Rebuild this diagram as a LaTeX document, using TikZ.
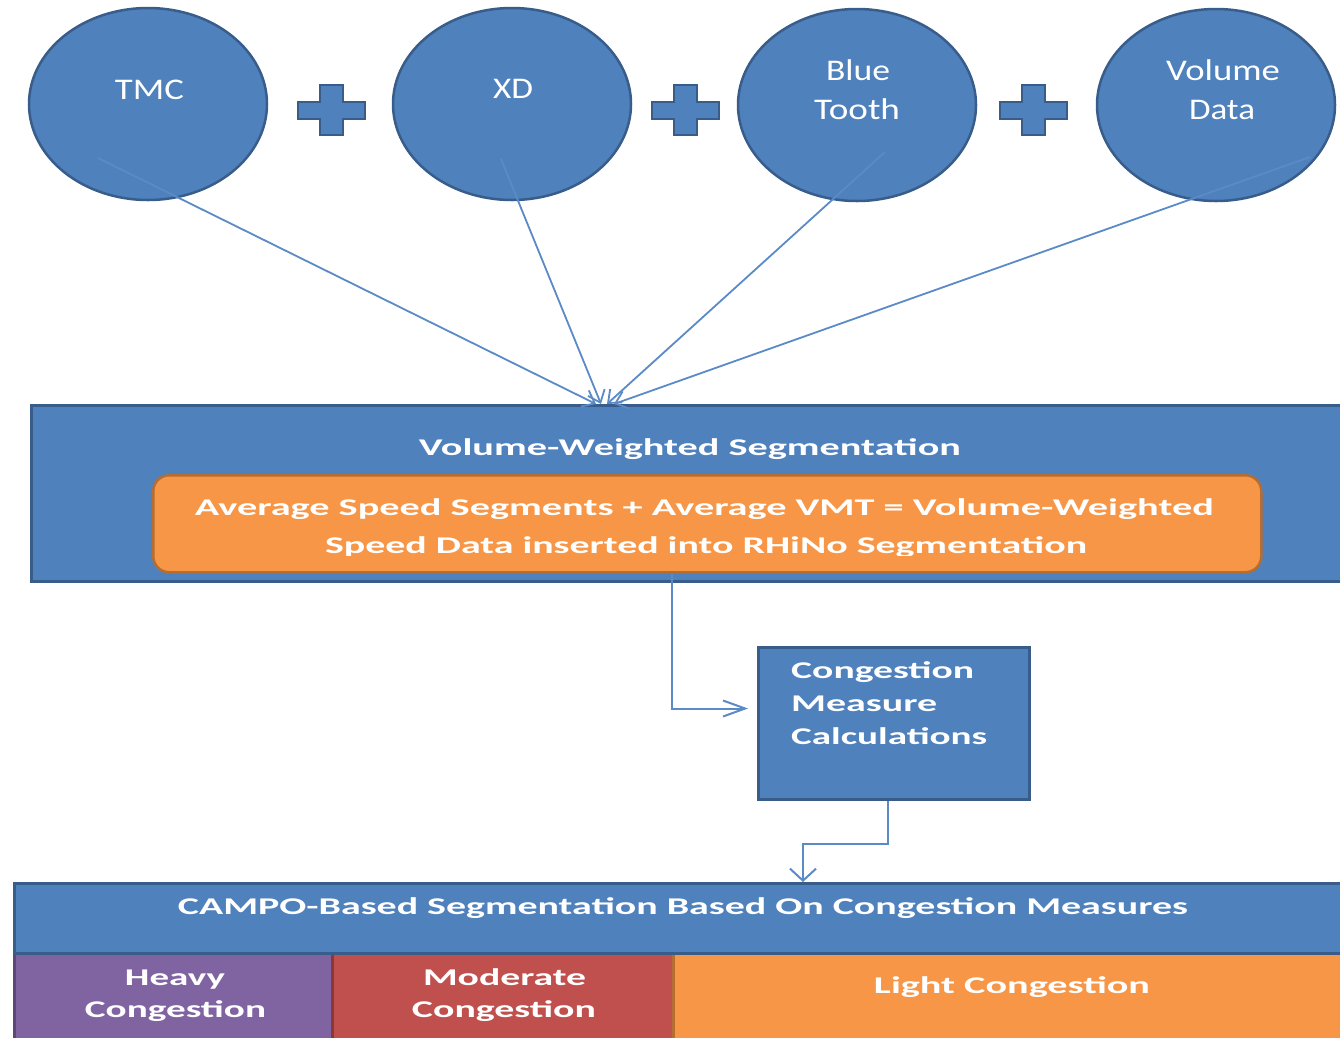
\documentclass[tikz,border=0pt]{standalone}
\usepackage{fontspec}
\setmainfont{Carlito}
\usetikzlibrary{arrows.meta,shapes.geometric,calc}
\definecolor{blu}{HTML}{4F81BD}
\definecolor{bluD}{HTML}{385D8A}
\definecolor{org}{HTML}{F79646}
\definecolor{orgD}{HTML}{B66D31}
\definecolor{pur}{HTML}{8064A2}
\definecolor{purD}{HTML}{5C4776}
\definecolor{redc}{HTML}{C0504D}
\definecolor{redD}{HTML}{8C3836}
\definecolor{lineC}{HTML}{5B8BC7}
\newcommand\fitw[2]{\resizebox{#1pt}{\height}{#2}}
\begin{document}
\begin{tikzpicture}[x=1pt,y=-1pt,
  circ/.style={ellipse, draw=bluD, fill=blu, line width=2.5pt, minimum width=238pt, minimum height=192pt, inner sep=0pt},
  plusst/.style={draw=bluD, fill=blu, line width=2pt},
  ctext/.style={text=white, inner sep=0pt, anchor=base, font=\fontsize{30}{36}\selectfont},
  btext/.style={text=white, inner sep=0pt, anchor=base, font=\bfseries\fontsize{24}{29}\selectfont},
  boxst/.style={draw=bluD, fill=blu, line width=2.5pt, anchor=north west, inner sep=0pt},
  cell/.style={line width=2.5pt, anchor=north west, inner sep=0pt, minimum height=100pt},
  conv/.style={draw=lineC, line width=1.8pt, -{Straight Barb[length=11pt,width=18pt]}},
  hconn/.style={draw=lineC, line width=2pt, -{Straight Barb[length=22pt,width=16pt]}},
  vconn/.style={draw=lineC, line width=2pt, -{Straight Barb[length=12pt,width=26pt]}}
]
\path[use as bounding box, clip] (0,0) rectangle (1340,1037);
\fill[white] (0,0) rectangle (1340,1037);

% source circles
\node[circ] (c1) at (148,104) {};
\node[circ] (c2) at (512,104) {};
\node[circ] (c3) at (857,105) {};
\node[circ] (c4) at (1216,105) {};
\node[ctext] (t1) at (149.5,99) {\fitw{69}{TMC}};
\node[ctext] (t2) at (513,98) {\fitw{40}{XD}};
\node[ctext] (t3a) at (858,80) {\fitw{64}{Blue}};
\node[ctext] (t3b) at (857,119) {\fitw{86}{Tooth}};
\node[ctext] (t4a) at (1223,80) {\fitw{114}{Volume}};
\node[ctext] (t4b) at (1222,119) {\fitw{66}{Data}};

% plus signs
\foreach \px in {331,685,1033}{
  \draw[plusst, shift={(\px,110)}] (-33.5,-8.5) -- (-11.5,-8.5) -- (-11.5,-25) -- (11.5,-25) -- (11.5,-8.5) -- (33.5,-8.5) -- (33.5,8.5) -- (11.5,8.5) -- (11.5,25) -- (-11.5,25) -- (-11.5,8.5) -- (-33.5,8.5) -- cycle;
}

% volume-weighted box
\node[boxst, minimum width=1340pt, minimum height=176pt] (vw) at (30,404) {};
\node[btext] (vwt) at (690,455) {\fitw{542}{Volume-Weighted Segmentation}};
\node[draw=orgD, fill=org, line width=2.5pt, rounded corners=16pt, anchor=north west, inner sep=0pt, minimum width=1108pt, minimum height=97pt] (ob) at (152,474) {};
\node[btext] (o1) at (704.5,515) {\fitw{1019}{Average Speed Segments + Average VMT = Volume-Weighted}};
\begin{scope}
\clip (0,0) rectangle (1340,555);
\node[btext] (o2) at (706,553) {\fitw{762}{Speed Data inserted into RHiNo Segmentation}};
\end{scope}

% converging connectors
\draw[conv] ($(c1.center)+(-50,54)$) -- ($(vw.north west)+(566,0)$);
\draw[conv] ($(c2.center)+(-11,55)$) -- ($(vw.north west)+(571,0)$);
\draw[conv] ($(c3.center)+(28,47)$) -- ($(vw.north west)+(577,0)$);
\draw[conv] ($(c4.center)+(94,52)$) -- ($(vw.north west)+(584,0)$);

% congestion measure box
\node[boxst, line width=3pt, minimum width=271pt, minimum height=152pt] (cm) at (757,646) {};
\node[btext, anchor=base west] (m1) at (791,678) {\fitw{183}{Congestion}};
\node[btext, anchor=base west] (m2) at (791,711) {\fitw{146}{Measure}};
\node[btext, anchor=base west] (m3) at (791,744) {\fitw{196}{Calculations}};

% bottom segmentation
\node[cell, draw=purD, fill=pur, minimum width=330pt] (hv) at (13,952) {};
\node[cell, draw=redD, fill=redc, minimum width=341pt] (md) at (331,952) {};
\node[cell, draw=orgD, fill=org, minimum width=700pt] (lt) at (672,952) {};
\node[boxst, minimum width=1360pt, minimum height=70pt] (bt) at (13,882) {};
\node[btext] (btt) at (683,914) {\fitw{1010}{CAMPO-Based Segmentation Based On Congestion Measures}};
\node[btext] (h1) at (175,985) {\fitw{100}{Heavy}};
\node[btext] (h2) at (175.5,1017) {\fitw{181}{Congestion}};
\node[btext] (d1) at (504.5,985) {\fitw{163}{Moderate}};
\node[btext] (d2) at (504,1017) {\fitw{184}{Congestion}};
\node[btext] (l1) at (1012,993) {\fitw{276}{Light Congestion}};

% elbow connectors
\coordinate (xa) at (672,0);
\coordinate (xb) at (888,0);
\coordinate (xc) at (803,0);
\draw[hconn, shorten >=9pt] (ob.south -| xa) |- ([yshift=15pt]cm.west);
\draw[vconn] (cm.south -| xb) -- ++(0,43) -| (bt.north -| xc);
\end{tikzpicture}
\end{document}
